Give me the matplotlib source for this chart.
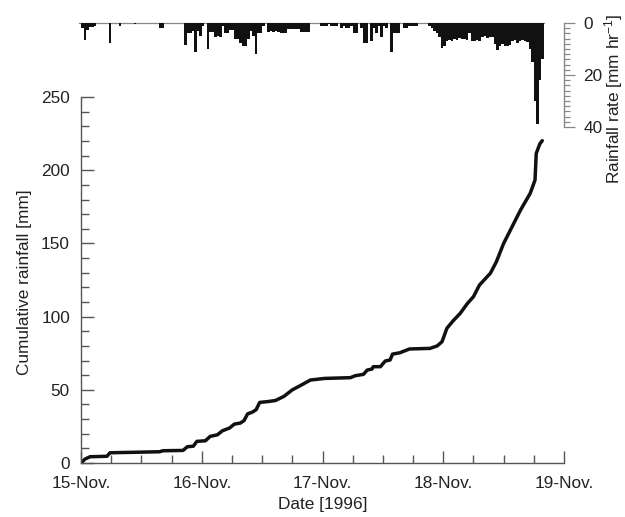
import numpy as np
import matplotlib
matplotlib.use("Agg")
import matplotlib.pyplot as plt
from matplotlib.ticker import MultipleLocator

plt.rcParams['font.family'] = ['Liberation Sans', 'DejaVu Sans']
plt.rcParams['mathtext.default'] = 'regular'

# cumulative rainfall, days since 15-Nov 00:00
cum_days = [0, 0.033, 0.075, 0.215, 0.24, 0.65, 0.68, 0.845, 0.88, 0.93, 0.96,
            1.03, 1.07, 1.13, 1.17, 1.23, 1.27, 1.32, 1.35, 1.38, 1.42, 1.45,
            1.48, 1.55, 1.61, 1.68, 1.75, 1.81, 1.90, 2.02, 2.23, 2.27, 2.34,
            2.37, 2.41, 2.42, 2.48, 2.52, 2.56, 2.58, 2.64, 2.72, 2.89, 2.95,
            2.99, 3.03, 3.08, 3.14, 3.20, 3.25, 3.30, 3.39, 3.44, 3.50, 3.57,
            3.64, 3.72, 3.76, 3.77, 3.80, 3.82]
cum_mm = [0, 2.7, 4.3, 4.6, 7.0, 7.7, 8.4, 8.6, 11.1, 11.5, 14.8,
          15.2, 18.2, 19.3, 22, 23.9, 26.6, 27.3, 29, 33.6, 34.8, 36.4,
          41.4, 42, 42.7, 45.5, 50, 52.6, 56.7, 57.8, 58.3, 59.6, 60.6,
          63.5, 64.2, 65.8, 65.8, 69.7, 70.4, 74.4, 75.3, 77.9, 78.3, 80,
          82.9, 92, 97, 102.2, 109, 113.6, 121.6, 129.6, 137.5, 150, 161.4,
          172.8, 184.2, 193.3, 211.5, 218, 220.2]

# rainfall rate [mm/hr], half-hour steps from 15-Nov 00:00
step_hr = 0.5
rate = [2, 6.5, 2.7, 1.5, 1.5, 1, 0, 0, 0, 0, 0, 7.8,
        0, 0, 0, 1, 0, 0, 0, 0, 0, 0.5, 0, 0,
        0, 0, 0, 0, 0, 0, 0, 2, 2, 0, 0, 0,
        0, 0, 0, 0, 0, 8.5, 4, 4, 3, 11, 3, 5,
        1, 0, 10, 3.5, 3.5, 5.5, 5, 5.5, 1, 4, 4, 2.7,
        2.7, 6, 6, 7.8, 9, 9, 6, 3, 5, 12, 4, 4,
        1, 0, 3.5, 3, 3.5, 3, 3.5, 4, 4, 4, 2.5, 2.5,
        2.5, 2.5, 2.5, 3.5, 3.5, 3.5, 3.5, 0, 0, 0, 0, 1,
        1, 1, 0.5, 1, 1, 1, 0, 2, 1, 2, 2, 1,
        4, 4, 0, 2, 7.8, 7.8, 0, 7, 2, 4, 1, 5.5,
        1, 2, 0, 11, 4, 4, 4, 0, 2, 2, 1, 1,
        1, 1, 0, 0, 0, 0, 1.3, 2, 3, 4, 5.3, 9.6,
        9, 7, 6.6, 7, 6, 6.5, 5.8, 6.2, 6, 6.5, 3.9, 6.8,
        7, 6.5, 6.8, 5.5, 5.2, 5.8, 5.5, 5.5, 8, 10.4, 9, 8,
        9, 9, 8.5, 7, 6.5, 7.7, 7, 6.5, 7, 7.5, 10, 15,
        30, 39, 22, 14]

date_ticks = [0, 1, 2, 3, 4]
date_labels = ['15-Nov.', '16-Nov.', '17-Nov.', '18-Nov.', '19-Nov.']

spine_col = '#555555'
fs = 12.4

fig = plt.figure(figsize=(6.25, 5.17), dpi=100)
ax = fig.add_axes([0.1296, 0.1044, 0.7728, 0.7079])
ax2 = fig.add_axes([0.1296, 0.7544, 0.7728, 0.2012])

# main cumulative curve
ax.plot(cum_days, cum_mm, color='#111111', lw=2.5, solid_capstyle='round')
ax.set_xlim(0, 4)
ax.set_ylim(0, 250)
ax.set_xticks(date_ticks)
ax.set_xticklabels(date_labels)
ax.xaxis.set_minor_locator(MultipleLocator(0.25))
ax.yaxis.set_major_locator(MultipleLocator(50))
ax.yaxis.set_minor_locator(MultipleLocator(10))
for s in ['top', 'right']:
    ax.spines[s].set_visible(False)
for s in ['left', 'bottom']:
    ax.spines[s].set_color(spine_col)
    ax.spines[s].set_linewidth(1.0)
ax.tick_params(which='both', direction='in', colors=spine_col,
               labelcolor='#222222', labelsize=fs, width=1.0)
ax.tick_params(which='major', length=9)
ax.tick_params(which='minor', length=5.5)
ax.tick_params(axis='x', which='major', pad=9)
ax.tick_params(axis='y', which='major', pad=8)
ax.set_ylabel('Cumulative rainfall [mm]', fontsize=fs, color='#222222')
ax.yaxis.set_label_coords(-0.101, 0.4945)
ax.set_xlabel('Date [1996]', fontsize=fs, color='#222222')
ax.xaxis.set_label_coords(0.5, -0.093)

# rainfall rate bars hanging from the top
t = np.arange(len(rate)) * step_hr / 24.0
ax2.bar(t, rate, width=step_hr / 24.0, align='edge', color='#111111', linewidth=0)
ax2.plot([t[0] - 0.02, t[-1] + step_hr / 24.0], [0, 0], color='#888888',
         lw=0.9, clip_on=False, zorder=0)
ax2.set_xlim(0, 4)
ax2.set_ylim(40, 0)
ax2.patch.set_visible(False)
for s in ['top', 'bottom', 'left']:
    ax2.spines[s].set_visible(False)
ax2.spines['right'].set_color('#888888')
ax2.spines['right'].set_linewidth(1.0)
ax2.set_xticks([])
ax2.yaxis.tick_right()
ax2.yaxis.set_major_locator(MultipleLocator(20))
ax2.yaxis.set_minor_locator(MultipleLocator(2))
ax2.tick_params(axis='y', which='both', direction='out', colors='#888888',
                labelcolor='#222222', labelsize=fs, width=0.9, pad=6)
ax2.tick_params(axis='y', which='major', length=8)
ax2.tick_params(axis='y', which='minor', length=4.5)

fig.text(0.982, 0.8085, 'Rainfall rate [mm hr$^{-1}$]', rotation=90,
         ha='center', va='center', fontsize=fs, color='#222222')

fig.savefig('out.png', dpi=100)
